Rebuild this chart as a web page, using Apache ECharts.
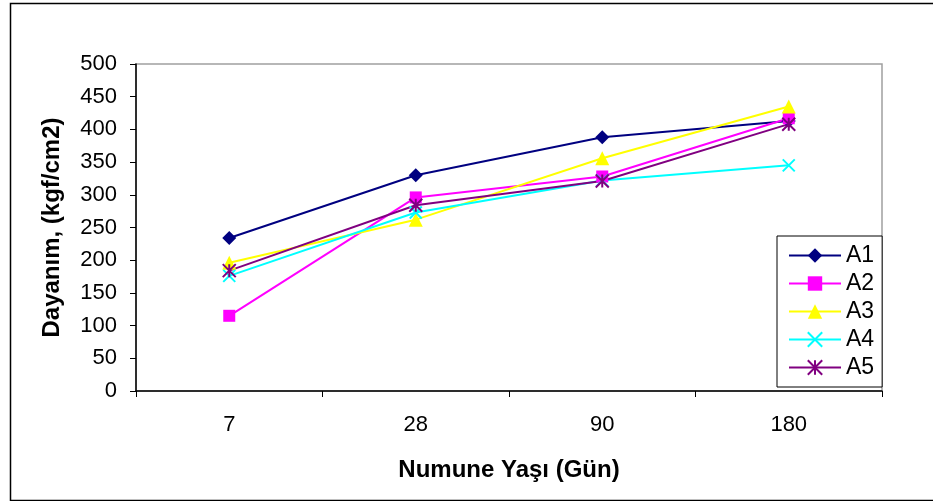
<!DOCTYPE html>
<html>
<head>
<meta charset="utf-8">
<script src="https://cdn.jsdelivr.net/npm/echarts@6/dist/echarts.min.js"></script>
<style>
  html, body { margin: 0; padding: 0; background: #fff; }
  #chart { width: 933px; height: 501px; }
</style>
</head>
<body>
<div id="chart"></div>
<script>
// Sample age in days
const ages = ['7', '28', '90', '180'];

// Strength (kgf/cm2) per mix
const A1 = [234, 330, 388, 413];
const A2 = [115, 296, 328, 417];
const A3 = [196, 262, 356, 435];
const A4 = [176, 273, 322, 345];
const A5 = [184, 284, 321, 408];

const FONT = '"Liberation Sans", Arial, sans-serif';

// Stroke-only marker shapes: an "x" and a six-armed star
const crossPath = 'path://M0,0L10,10M10,0L0,10';
const starPath = 'path://M5,0L5,10M0,0L10,10M10,0L0,10';

function lineSeries(name, data, color, symbol, size, stroked) {
  return {
    name: name,
    type: 'line',
    data: data,
    symbol: symbol,
    symbolSize: size,
    showAllSymbol: true,
    lineStyle: { color: color, width: 2 },
    itemStyle: stroked
      ? { color: color, borderColor: color, borderWidth: 2 }
      : { color: color, borderWidth: 0 },
    emphasis: { disabled: true },
    animation: false
  };
}

const chart = echarts.init(document.getElementById('chart'), null, { renderer: 'canvas' });

chart.setOption({
  backgroundColor: '#ffffff',
  animation: false,
  textStyle: { fontFamily: FONT },
  graphic: [{
    type: 'rect',
    left: 8, top: 1,
    shape: { width: 960, height: 497 },
    style: { fill: 'none', stroke: '#000', lineWidth: 1.5 },
    silent: true
  }],
  grid: {
    left: 136, right: 51, top: 64, bottom: 110,
    show: true,
    borderColor: '#a0a0a0',
    borderWidth: 1.5,
    backgroundColor: '#fff'
  },
  legend: {
    orient: 'vertical',
    left: 777, top: 236,
    padding: [8, 8, 8, 11],
    itemWidth: 52,
    itemHeight: 18,
    itemGap: 5,
    borderColor: '#000',
    borderWidth: 1,
    backgroundColor: '#fff',
    textStyle: { fontSize: 23, lineHeight: 23, color: '#000', fontFamily: FONT },
    data: ['A1', 'A2', 'A3', 'A4', 'A5']
  },
  xAxis: {
    type: 'category',
    data: ages,
    boundaryGap: true,
    name: 'Numune Yaşı (Gün)',
    nameLocation: 'middle',
    nameGap: 67,
    nameTextStyle: { fontSize: 24, fontWeight: 'bold', color: '#000', fontFamily: FONT },
    axisLine: { show: true, lineStyle: { color: '#000', width: 1.5 } },
    axisTick: { show: true, inside: false, length: 6, alignWithLabel: false, lineStyle: { color: '#000' } },
    axisLabel: { fontSize: 22, color: '#000', margin: 23, fontFamily: FONT },
    splitLine: { show: false }
  },
  yAxis: {
    type: 'value',
    min: 0, max: 500, interval: 50,
    name: 'Dayanım, (kgf/cm2)',
    nameLocation: 'middle',
    nameRotate: 90,
    nameGap: 72,
    nameTextStyle: { fontSize: 24, fontWeight: 'bold', color: '#000', fontFamily: FONT },
    axisLine: { show: true, lineStyle: { color: '#000', width: 1.5 } },
    axisTick: { show: true, inside: false, length: 6, lineStyle: { color: '#000' } },
    axisLabel: { fontSize: 22, color: '#000', margin: 19, fontFamily: FONT },
    splitLine: { show: false }
  },
  series: [
    lineSeries('A1', A1, '#000080', 'diamond', 14, false),
    lineSeries('A2', A2, '#FF00FF', 'rect', 12, false),
    lineSeries('A3', A3, '#FFFF00', 'triangle', 14, false),
    lineSeries('A4', A4, '#00FFFF', crossPath, 12, true),
    lineSeries('A5', A5, '#800080', starPath, 13, true)
  ]
});
</script>
</body>
</html>
